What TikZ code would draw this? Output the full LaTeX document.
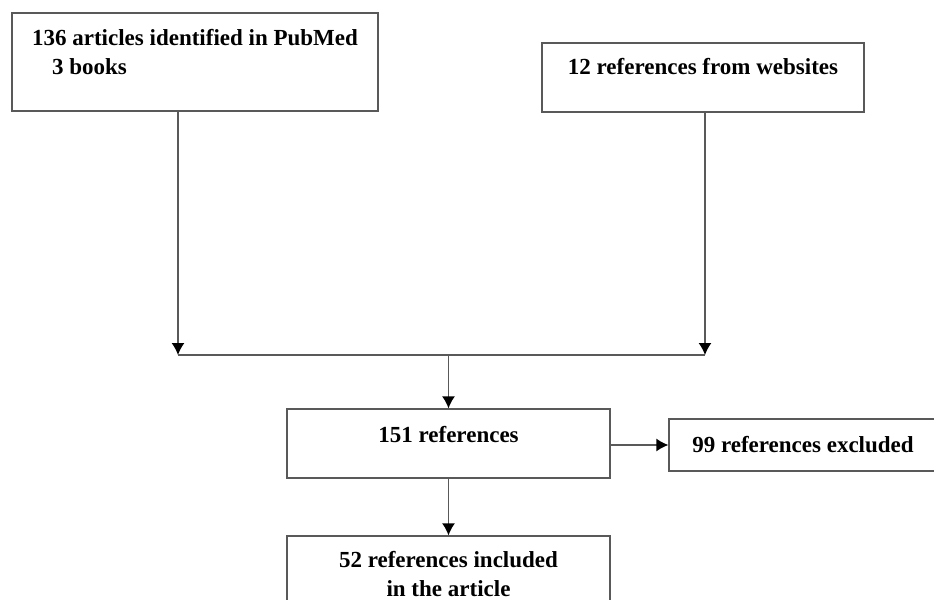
\documentclass[tikz,border=0pt]{standalone}
\usepackage{fontspec}
\setmainfont{Liberation Serif}
\usetikzlibrary{arrows.meta,positioning}
\tikzset{>={Latex[width=6.5pt,length=6pt,color=black]}}
\tikzset{box/.style={shape=rectangle, draw=black!65, line width=0.65pt,
    fill=white, inner sep=0pt}}
\tikzset{flow/.style={->, draw=black!65, line width=0.65pt}}
\tikzset{boxtext/.style={font=\bfseries\fontsize{11.5}{14.5}\selectfont,
    align=left, anchor=center, inner sep=0pt}}

\begin{document}
\begin{tikzpicture}[x=0.5pt, y=-0.5pt]
    \useasboundingbox (0,0) rectangle (934,600);

    \node[box, minimum width=183pt, minimum height=49pt,
      label={[boxtext, yshift=-19.75pt]north:{136 articles identified in PubMed\\\hspace*{10pt}3 books}}]
      (pubmed) at (195,62) {};
    \node[box, minimum width=161pt, minimum height=34.5pt,
      label={[boxtext, yshift=-12pt]north:{12 references from websites}}]
      (web) at (703,77.5) {};
    \node[box, minimum width=161.5pt, minimum height=34.5pt,
      label={[boxtext, yshift=-13pt]north:{151 references}}]
      (refs) at (448.5,443.5) {};
    \node[box, minimum width=134pt, minimum height=26pt, font=\bfseries\fontsize{11.5}{14.5}\selectfont]
      (excl) at (803,445) {99 references excluded};
    \node[box, minimum width=161.5pt, minimum height=34.5pt,
      label={[boxtext, align=center, yshift=-19.25pt]north:{52 references included\\in the article}}]
      (incl) at (448.5,570.5) {};

    \coordinate (jleft) at (178,355);
    \coordinate (jright) at (705,355);
    \coordinate (jmid) at (448.5,355);

    \draw [flow] (pubmed.south -| jleft) -- (jleft);
    \draw [flow] (web.south -| jright) -- (jright);
    \draw [flow, -] (jleft) -- (jright);
    \draw [flow] (jmid) -- (refs.north);
    \draw [flow] (refs.east |- excl.west) -- (excl.west);
    \draw [flow] (refs.south) -- (incl.north);

\end{tikzpicture}
\end{document}
